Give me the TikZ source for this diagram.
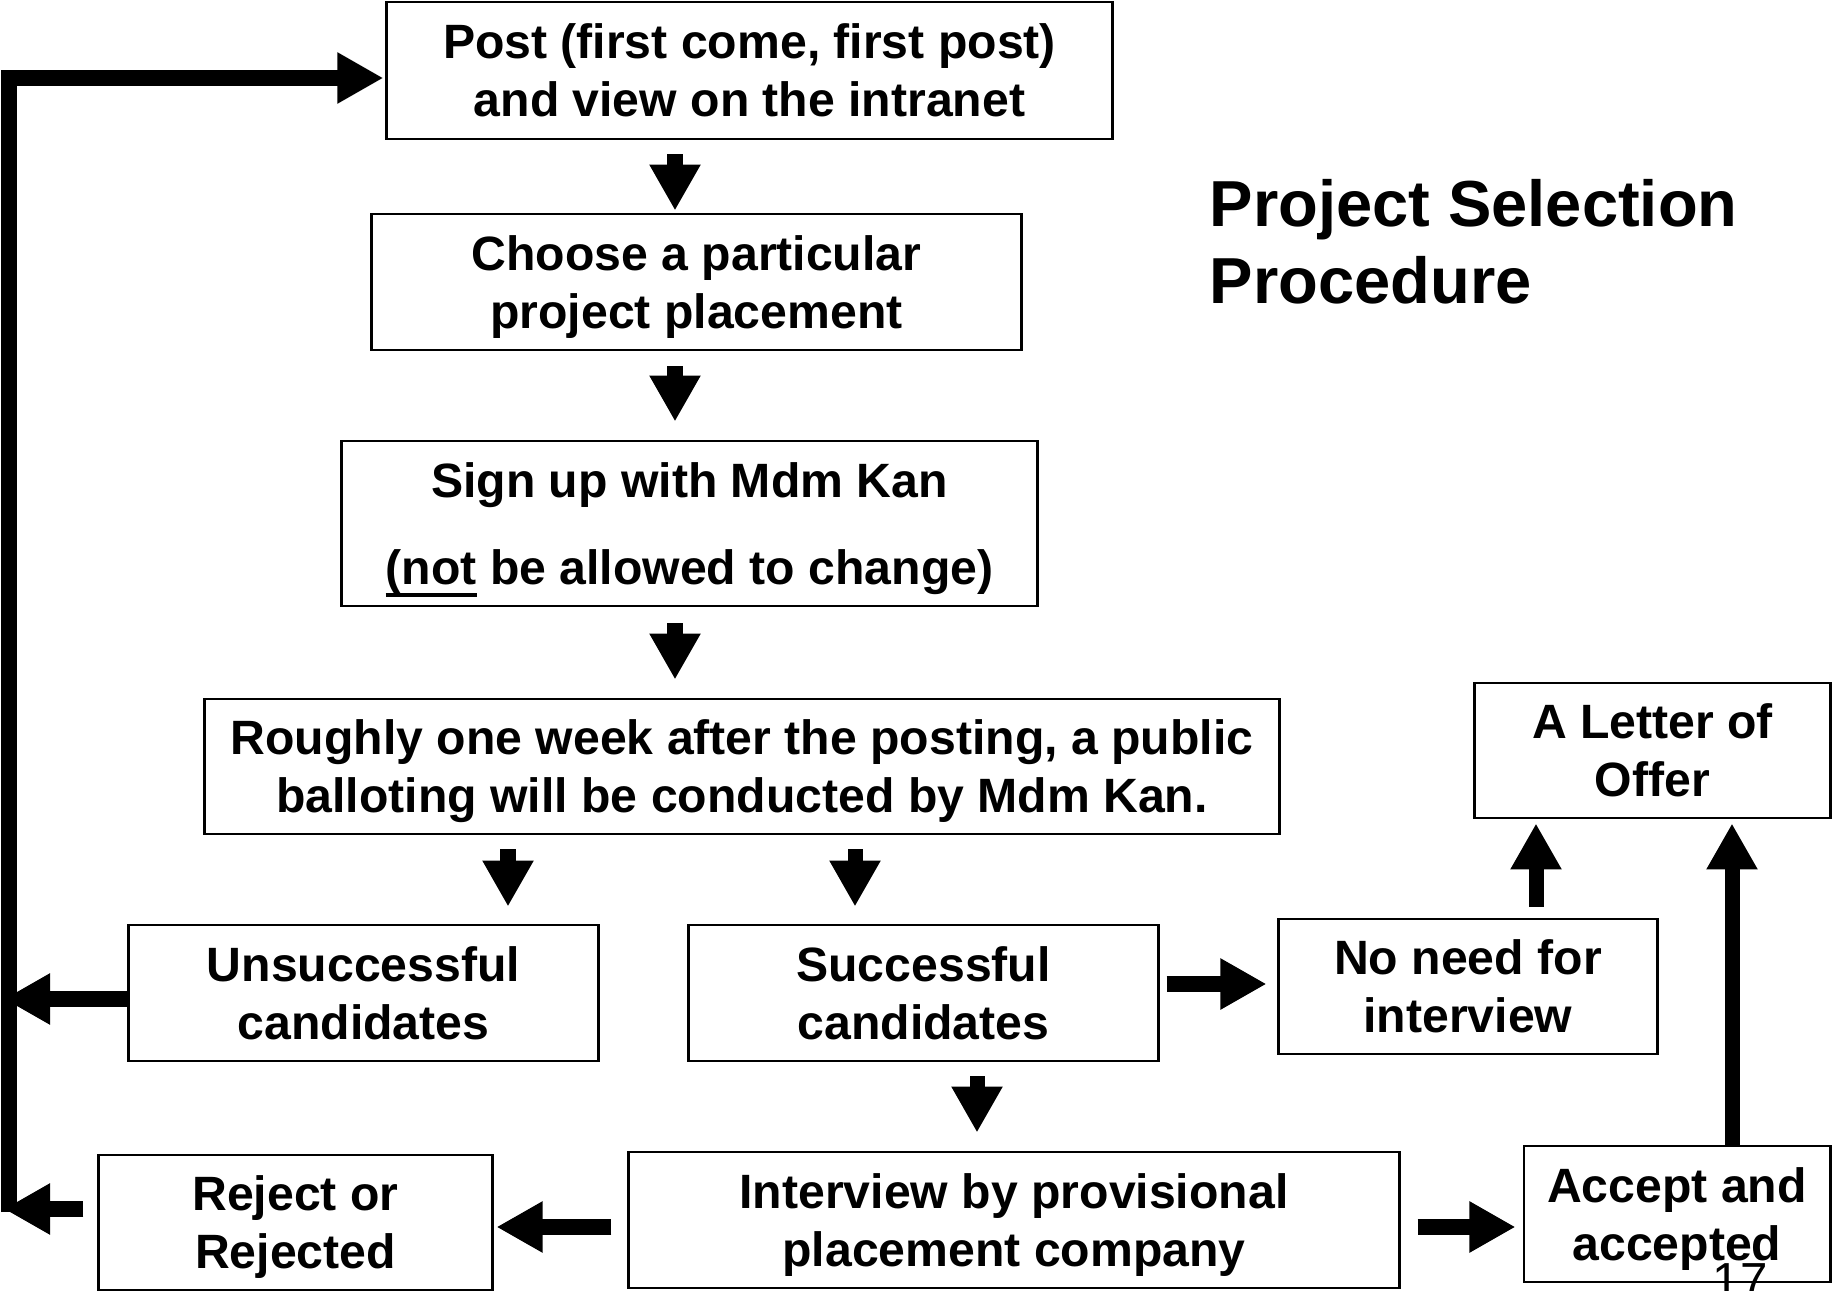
\documentclass[tikz,border=0pt]{standalone}
\usepackage{fontspec}
\setmainfont{Liberation Sans}
\usepackage{tikz}
\usetikzlibrary{arrows.meta,positioning,calc}
\newcommand\notline[1]{\setbox0\hbox{#1}\rlap{\smash{\rule[-3.6pt]{\wd0}{1pt}}}\box0\relax}

\begin{document}
\begin{tikzpicture}[x=0.01cm, y=-0.01cm,
  box/.style={rectangle, draw, line width=0.8pt, inner sep=0pt, align=center, font=\fontsize{13.7}{16.5}\selectfont\bfseries, text depth=#1},
  box/.default=-2.4pt,
  arr/.style={-{Triangle[width=0.48cm, length=0.46cm]}, line width=0.15cm}
]
\useasboundingbox (0,0) rectangle (1841,1291);
\node[box=-2.6pt, minimum width=7.25cm, minimum height=1.37cm] (a) at (749.5,70.5) {Post (first come, first post)\\and view on the intranet};
\node[box=-1.3pt, minimum width=6.49cm, minimum height=1.36cm] (b) at (696.5,282) {Choose a particular\\project placement};
\node[box, minimum width=6.95cm, minimum height=1.65cm] (c) at (689.5,523.5) {Sign up with Mdm Kan\\[8pt]\notline{(not} be allowed to change)};
\node[box, minimum width=10.74cm, minimum height=1.35cm] (d) at (742,766.5) {Roughly one week after the posting, a public\\balloting will be conducted by Mdm Kan.};
\node[box=-0.3pt, minimum width=4.69cm, minimum height=1.36cm] (e) at (363.5,993) {Unsuccessful\\candidates};
\node[box=-0.3pt, minimum width=4.69cm, minimum height=1.36cm] (f) at (923.5,993) {Successful\\candidates};
\node[box=-3pt, minimum width=3.78cm, minimum height=1.35cm] (g) at (1468,986.5) {No need for\\interview};
\node[box=-2.3pt, minimum width=3.55cm, minimum height=1.35cm] (h) at (1652.5,750.5) {A Letter of\\Offer};
\node[box=-3pt, minimum width=3.93cm, minimum height=1.35cm] (i) at (295.5,1222.5) {Reject or\\Rejected};
\node[box, minimum width=7.70cm, minimum height=1.36cm] (j) at (1014,1220) {Interview by provisional\\placement company};
\node[box=-2.1pt, minimum width=3.06cm, minimum height=1.36cm] (k) at (1677,1214) {Accept and\\accepted};
\node[anchor=north west, inner sep=0pt, align=left, font=\fontsize{18.5}{21.9}\selectfont\bfseries] (t) at (1209,179) {Project Selection\\Procedure};
\node[anchor=base, inner sep=0pt, font=\fontsize{14}{16}\selectfont] (n) at (1740,1297) {17};
% columns and rows of the block arrows
\coordinate (c1) at (675,0);
\coordinate (c2) at (508,0);
\coordinate (c3) at (855,0);
\coordinate (c4) at (977,0);
\coordinate (c5) at (1536,0);
\coordinate (c6) at (1732,0);
\coordinate (r1) at (0,984);
\coordinate (r2) at (0,1227);
\coordinate (r3) at (0,999);
\coordinate (r4) at (0,1209);
\coordinate (r5) at (0,78);
\coordinate (l) at (9,1212);
\draw[arr, shorten <=0.14cm, shorten >=0.02cm] (a.south -| c1) -- (b.north -| c1);
\draw[arr, shorten <=0.15cm, shorten >=0.18cm] (b.south -| c1) -- (c.north -| c1);
\draw[arr, shorten <=0.16cm, shorten >=0.18cm] (c.south -| c1) -- (d.north -| c1);
\draw[arr, shorten <=0.14cm, shorten >=0.17cm] (d.south -| c2) -- (e.north -| c2);
\draw[arr, shorten <=0.14cm, shorten >=0.17cm] (d.south -| c3) -- (f.north -| c3);
\draw[arr, shorten <=0.14cm, shorten >=0.18cm] (f.south -| c4) -- (j.north -| c4);
\draw[arr, shorten <=0.07cm, shorten >=0.11cm] (f.east |- r1) -- (g.west |- r1);
\draw[arr, shorten <=0.11cm, shorten >=0.04cm] (g.north -| c5) -- (h.south -| c5);
\draw[arr, shorten <=-0.02cm, shorten >=0.04cm] (k.north -| c6) -- (h.south -| c6);
\draw[arr, shorten <=0.16cm, shorten >=0.03cm] (j.west |- r2) -- (i.east |- r2);
\draw[arr, shorten <=0.17cm, shorten >=0.07cm] (j.east |- r2) -- (k.west |- r2);
\draw[arr, shorten >=-0.05cm] (e.west |- r3) -- (l |- r3);
\draw[arr, shorten <=0.14cm, shorten >=-0.05cm] (i.west |- r4) -- (l |- r4);
\draw[arr, shorten >=0.02cm] (l) |- (a.west |- r5);
\end{tikzpicture}
\end{document}
